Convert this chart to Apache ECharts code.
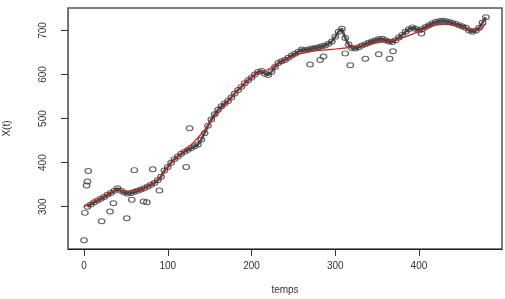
<!DOCTYPE html>
<html>
<head>
<meta charset="utf-8">
<script src="https://cdn.jsdelivr.net/npm/echarts@6/dist/echarts.min.js"></script>
<style>
html,body{margin:0;padding:0;background:#fff;}
#c{width:505px;height:299px;}
</style>
</head>
<body>
<div id="c"></div>
<script>
// Main observations (every 4 time units)
var mainT = [4,8,12,16,20,24,28,32,36,40,44,48,52,56,60,64,68,72,76,80,84,88,92,96,100,104,108,112,116,120,124,128,132,136,140,144,148,152,156,160,164,168,172,176,180,184,188,192,196,200,204,208,212,216,220,224,228,232,236,240,244,248,252,256,260,264,268,272,276,280,284,288,292,296,300,304,308,312,316,320,324,328,332,336,340,344,348,352,356,360,364,368,372,376,380,384,388,392,396,400,404,408,412,416,420,424,428,432,436,440,444,448,452,456,460,464,468,472,476,480];
var mainX = [300,305,310,314,318,322,327,331,336,342,336,332,330,331,334,336,339,342,346,350,354,360,368,382,390,400,408,414,420,425,429,433,437,441,452,467,484,498,510,520,528,534,540,548,557,565,572,580,587,593,600,606,608,602,599,606,617,626,630,633,638,643,647,652,657,655,657,659,660,662,664,666,670,675,686,697,704,683,668,660,659,662,666,669,672,675,678,680,681,678,675,674,678,684,690,697,703,707,704,700,703,708,712,716,719,721,722,721,719,717,715,712,709,706,700,697,700,706,718,730];
// Scattered observations away from the main trace
var outT = [0,1,3,4,5,21,31,35,51,57,60,71,75,82,90,122,126,270,282,286,312,318,336,352,365,369,403];
var outX = [224,286,348,357,381,267,289,308,274,316,383,312,310,385,337,390,478,623,633,641,648,621,636,646,636,653,693];
// Smoothed estimate (red line)
var smT = [0,10,20,30,40,50,60,70,80,90,100,110,120,130,140,150,160,170,180,190,200,210,220,230,240,250,260,270,280,290,300,310,320,330,340,350,360,370,380,390,400,410,420,430,440,450,460,470,480];
var smX = [300,310,320,330,336,334,335,340,350,365,390,410,428,445,465,490,512,534,556,576,594,605,612,622,632,642,648,652,655,656,658,660,662,665,668,672,675,678,683,690,698,706,712,714,713,709,703,700,716];
var xTicks = [0,100,200,300,400];
var yTicks = [300,400,500,600,700];

function pairs(a,b){ return a.map(function(v,i){ return [v,b[i]]; }); }
var mainPts = pairs(mainT, mainX);
var pts = mainPts.concat(pairs(outT, outX));

var chart = echarts.init(document.getElementById('c'), null, {renderer:'canvas'});
var font = 'Liberation Sans, Arial, sans-serif';
chart.setOption({
  animation:false,
  backgroundColor:'#fff',
  grid:{left:68, top:8, right:3, bottom:50, outerBoundsMode:'none', containLabel:false,
        show:true, borderColor:'#555', borderWidth:1.5, backgroundColor:'transparent'},
  xAxis:{
    type:'value', min:-19.2, max:499.2,
    name:'temps', nameLocation:'middle', nameGap:36,
    nameTextStyle:{fontFamily:font, fontSize:10, color:'#333'},
    axisLine:{show:true, onZero:false, lineStyle:{color:'#222', width:1}},
    axisTick:{show:true, length:7, customValues:xTicks, lineStyle:{color:'#333'}},
    axisLabel:{customValues:xTicks, margin:12, fontFamily:font, fontSize:10, color:'#333'},
    splitLine:{show:false}
  },
  yAxis:{
    type:'value', min:204, max:751,
    name:'X(t)', nameLocation:'middle', nameGap:56, nameRotate:90,
    nameTextStyle:{fontFamily:font, fontSize:10, color:'#333'},
    axisLine:{show:true, onZero:false, lineStyle:{color:'#666', width:1}},
    axisTick:{show:true, length:7, customValues:yTicks, lineStyle:{color:'#333'}},
    axisLabel:{customValues:yTicks, rotate:90, margin:20, fontFamily:font, fontSize:10, color:'#333'},
    splitLine:{show:false}
  },
  series:[
    {
      type:'line', data:mainPts, showSymbol:false, smooth:false,
      lineStyle:{color:'#333', width:2.6, opacity:0.85}, z:1
    },
    {
      type:'scatter', data:pts, symbol:'circle', symbolSize:[6.5,5],
      itemStyle:{color:'rgba(255,255,255,0)', borderColor:'#3a3a3a', borderWidth:1.1},
      z:2
    },
    {
      type:'line', data:pairs(smT, smX), smooth:0.4, showSymbol:false,
      lineStyle:{color:'#d42020', width:1.2}, z:3
    }
  ]
});
</script>
</body>
</html>
